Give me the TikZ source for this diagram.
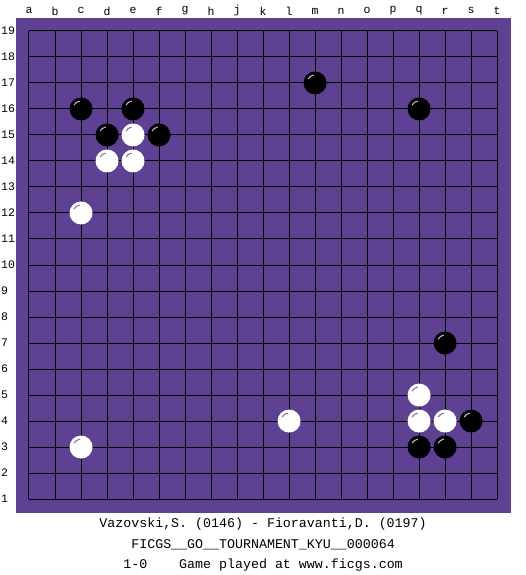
\documentclass[tikz,border=0pt]{standalone}
\usepackage{fontspec}
\setmonofont{Liberation Mono}
\usepackage{tikz}
\usetikzlibrary{positioning}
\definecolor{boardpurple}{RGB}{94, 65, 146}
\definecolor{shinegray}{RGB}{200, 200, 210}

\begin{document}
\begin{tikzpicture}[
    x=26pt, y=26pt,
    board/.style={fill=boardpurple, draw=none},
    gridline/.style={line width=1pt, black},
    coordlabel/.style={font=\ttfamily\fontsize{11.5}{11.5}\selectfont, inner sep=0pt},
    bstone/.style={circle, fill=black, minimum size=23pt, inner sep=0pt},
    wstone/.style={circle, fill=white, minimum size=23pt, inner sep=0pt},
    bshine/.style={draw=shinegray, line width=1pt},
    wshine/.style={draw=boardpurple!80, line width=1pt},
    caption/.style={font=\ttfamily\fontsize{13.3}{13.3}\selectfont, inner sep=0pt}
]
    \useasboundingbox (-1.115,-2.92) rectangle (19.08,19.19);
    \fill[board] (-0.5,-0.53) rectangle (18.54,18.5);

    % grid, column letters, named points
    \foreach \c [count=\i from 0] in {a,b,c,d,e,f,g,h,j,k,l,m,n,o,p,q,r,s,t} {
        \draw[gridline] (\i,0) -- (\i,18);
        \node[coordlabel] (col-\c) at (\i,18.77) {\c};
        \foreach \r in {1,...,19}
            \coordinate (\c\r) at (\i,\r-1);
    }
    \foreach \r in {1,...,19} {
        \draw[gridline] (0,\r-1) -- (18,\r-1);
        \node[coordlabel, anchor=west] (row-\r) at (-1.08,\r-1) {\r};
    }

    % stones
    \foreach \p in {c16,e16,d15,f15,m17,q16,r7,s4,q3,r3} {
        \node[bstone] (B\p) at (\p) {};
        \draw[bshine] ([shift={(100:8pt)}]B\p.center) arc (100:150:8pt);
    }
    \foreach \p in {e15,d14,e14,c12,c3,l4,q5,q4,r4} {
        \node[wstone] (W\p) at (\p) {};
        \draw[wshine] ([shift={(100:8pt)}]W\p.center) arc (100:150:8pt);
    }

    % game info
    \node[caption] (players) at (9.0,-0.96) {Vazovski,S. (0146) - Fioravanti,D. (0197)};
    \node[caption] (event) at (9.0,-1.77) {FICGS\_\_GO\_\_TOURNAMENT\_KYU\_\_000064};
    \node[caption] (result) at (9.0,-2.54) {1-0\ \ \ \ Game played at www.ficgs.com};
\end{tikzpicture}
\end{document}
